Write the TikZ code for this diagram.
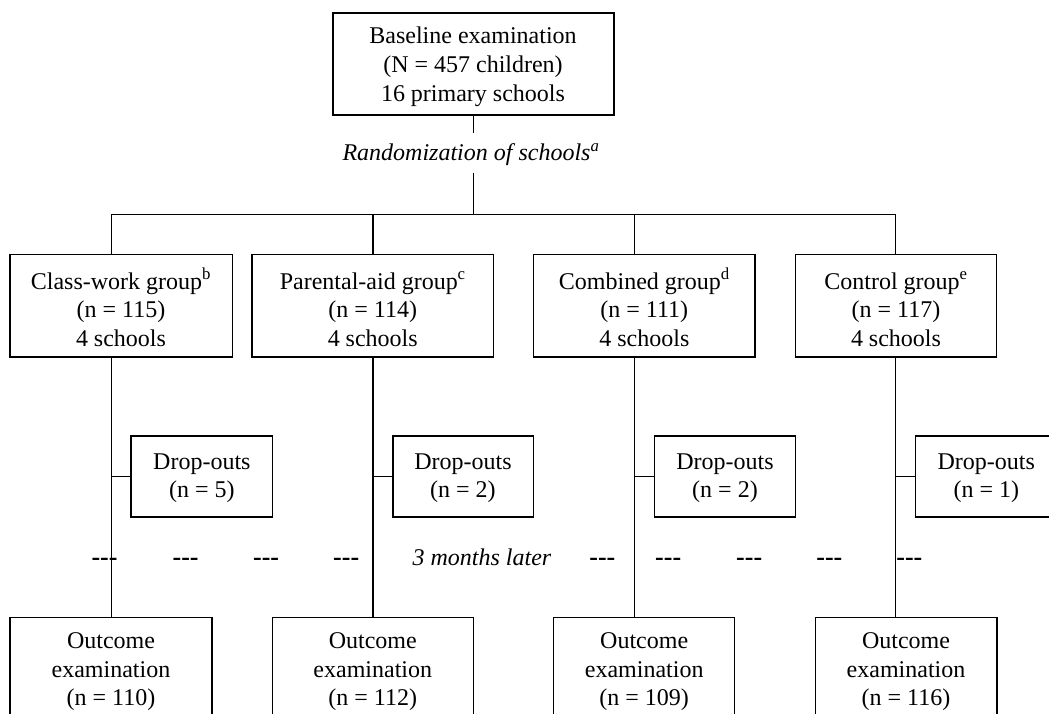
\documentclass[tikz,border=0pt]{standalone}
\usepackage{fontspec}
\setmainfont{Liberation Serif}
\newcommand\mlines[1]{\begin{tabular}[t]{@{}c@{}}#1\end{tabular}}
\newcommand\tdash{\mbox{-}\mbox{-}\mbox{-}}
\begin{document}
\begin{tikzpicture}[x=1pt,y=-1pt]
\tikzset{
 box/.style={draw, line width=1.5pt, inner sep=0pt, outer sep=0pt},
 txt/.style={anchor=base, inner sep=0pt, font=\fontsize{24}{28.6}\selectfont},
 link/.style={line width=1.5pt},
 sepdash/.style={anchor=base west, inner sep=0pt, font=\fontsize{26}{28.6}\selectfont\bfseries},
 note/.style={inner sep=0pt, font=\fontsize{24}{28.6}\selectfont\itshape},
}
\useasboundingbox (0,0) rectangle (1049,714);
\clip (0,0) rectangle (1049,714);

% top box
\node[box, minimum width=281pt, minimum height=102pt] (top) at (473.5,64) {};
\node[txt] (topt) at (473,44) {\mlines{Baseline examination\\(N = 457 children)\\16 primary schools}};
\node[note, anchor=base] (rand) at (471,161) {Randomization of schools\textsuperscript{a}};

% group boxes
\node[box, minimum width=222.2pt, minimum height=102.4pt] (g1) at (121.2,305.9) {};
\node[box, minimum width=241.7pt, minimum height=102.4pt] (g2) at (372.75,305.9) {};
\node[box, minimum width=221.7pt, minimum height=102.4pt] (g3) at (644.35,305.9) {};
\node[box, minimum width=201.4pt, minimum height=102.4pt] (g4) at (896,305.9) {};
\node[txt] (g1t) at (121,289) {\mlines{Class-work group\textsuperscript{b}\\(n = 115)\\4 schools}};
\node[txt] (g2t) at (372.75,289) {\mlines{Parental-aid group\textsuperscript{c}\\(n = 114)\\4 schools}};
\node[txt] (g3t) at (644.35,289) {\mlines{Combined group\textsuperscript{d}\\(n = 111)\\4 schools}};
\node[txt] (g4t) at (896,289) {\mlines{Control group\textsuperscript{e}\\(n = 117)\\4 schools}};

% drop-out boxes
\node[box, minimum width=141.3pt, minimum height=81pt] (d1) at (201.85,476.5) {};
\node[box, minimum width=140.5pt, minimum height=81pt] (d2) at (463,476.5) {};
\node[box, minimum width=141.3pt, minimum height=81pt] (d3) at (725,476.5) {};
\node[box, minimum width=141.3pt, minimum height=81pt] (d4) at (986.3,476.5) {};
\node[txt] (d1t) at (201.85,469.3) {\mlines{Drop-outs\\(n = 5)}};
\node[txt] (d2t) at (463,469.3) {\mlines{Drop-outs\\(n = 2)}};
\node[txt] (d3t) at (725,469.3) {\mlines{Drop-outs\\(n = 2)}};
\node[txt] (d4t) at (986.3,469.3) {\mlines{Drop-outs\\(n = 1)}};

% outcome boxes
\node[box, minimum width=202pt, minimum height=117.5pt] (o1) at (111,676.25) {};
\node[box, minimum width=201pt, minimum height=117.5pt] (o2) at (372.75,676.25) {};
\node[box, minimum width=181pt, minimum height=117.5pt] (o3) at (644.2,676.25) {};
\node[box, minimum width=181.5pt, minimum height=117.5pt] (o4) at (906,676.25) {};
\node[txt] (o1t) at (111,648.6) {\mlines{Outcome\\examination\\(n = 110)}};
\node[txt] (o2t) at (372.75,648.6) {\mlines{Outcome\\examination\\(n = 112)}};
\node[txt] (o3t) at (644.2,648.6) {\mlines{Outcome\\examination\\(n = 109)}};
\node[txt] (o4t) at (906,648.6) {\mlines{Outcome\\examination\\(n = 116)}};

% time line
\node[note, anchor=base west] (later) at (412.4,565) {3 months later};
\foreach \i/\x in {1/91.3,2/172.4,3/252.9,4/333,5/589.2,6/655,7/736,8/816.2,9/896.2}
  \node[sepdash] (dash\i) at (\x,565) {\tdash};

% connectors
\coordinate (r1) at (473.3,133);
\coordinate (r2) at (473.3,173);
\coordinate (v1) at (111.6,214.5);
\coordinate (v2) at (372.9,214.5);
\coordinate (v3) at (634.7,214.5);
\coordinate (v4) at (895.5,214.5);
\draw[link] (r1 |- top.south) -- (r1);
\draw[link] (r2) -- (r2 |- v1);
\draw[link] (v1 |- g1.north) -- (v1) -- (v4) -- (v4 |- g4.north);
\draw[link] (v2) -- (v2 |- g2.north);
\draw[link] (v3) -- (v3 |- g3.north);
\foreach \i in {1,2,3,4} {
  \draw[link] (v\i |- g\i.south) -- (v\i |- o\i.north);
  \draw[link] (v\i |- d\i.west) -- (d\i.west);
}
\end{tikzpicture}
\end{document}
